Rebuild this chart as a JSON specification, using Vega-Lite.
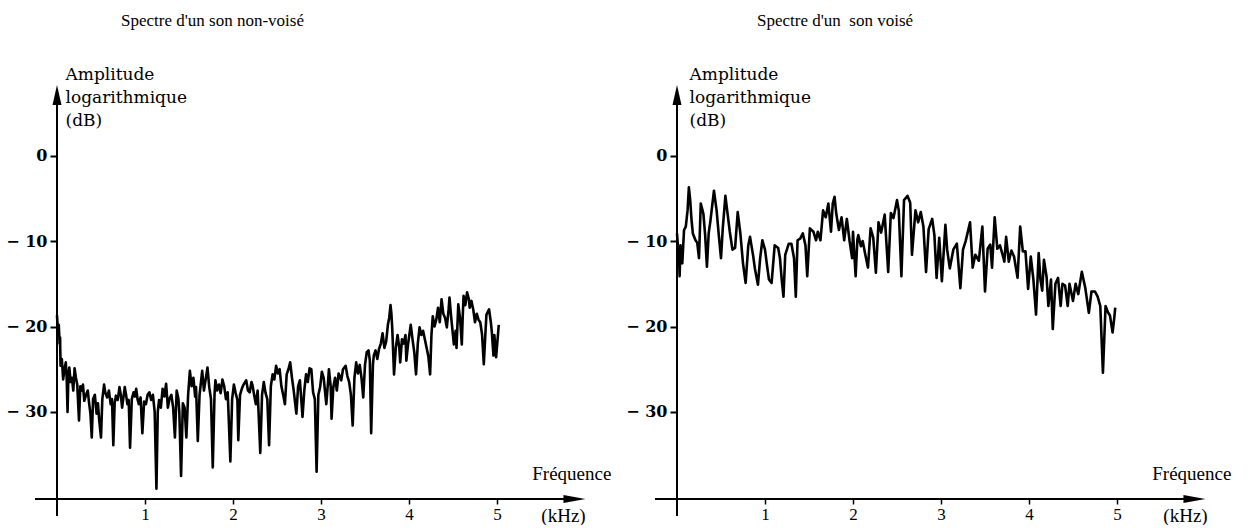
{
"$schema": "https://vega.github.io/schema/vega-lite/v6.json",
"background": "white",
"padding": {"left": 5, "top": 12, "right": 0, "bottom": 0},
"config": {"view": {"stroke": null}, "font": "Liberation Serif", "concat": {"spacing": 13}},
"datasets": {
"left": [
{"f":0.00,"db":-18.7},{"f":0.01,"db":-20.5},{"f":0.02,"db":-19.8},{"f":0.03,"db":-22.0},{"f":0.035,"db":-21.3},{"f":0.04,"db":-24.6},{"f":0.055,"db":-23.8},{"f":0.07,"db":-26.2},{"f":0.085,"db":-25.0},{"f":0.10,"db":-24.2},{"f":0.11,"db":-26.0},{"f":0.12,"db":-30.0},{"f":0.13,"db":-25.5},{"f":0.14,"db":-24.8},{"f":0.155,"db":-26.5},{"f":0.17,"db":-26.0},{"f":0.185,"db":-27.5},{"f":0.20,"db":-24.9},{"f":0.215,"db":-26.0},{"f":0.23,"db":-26.8},{"f":0.25,"db":-31.0},{"f":0.265,"db":-27.0},{"f":0.28,"db":-27.5},{"f":0.295,"db":-26.8},{"f":0.31,"db":-28.7},{"f":0.33,"db":-28.0},{"f":0.35,"db":-27.5},{"f":0.365,"db":-29.0},{"f":0.38,"db":-30.2},{"f":0.395,"db":-33.0},{"f":0.41,"db":-28.5},{"f":0.43,"db":-28.0},{"f":0.45,"db":-30.2},{"f":0.465,"db":-29.0},{"f":0.48,"db":-31.0},{"f":0.50,"db":-33.0},{"f":0.515,"db":-28.5},{"f":0.535,"db":-26.8},{"f":0.55,"db":-27.8},{"f":0.57,"db":-28.3},{"f":0.59,"db":-27.5},{"f":0.61,"db":-29.1},{"f":0.625,"db":-28.5},{"f":0.64,"db":-33.9},{"f":0.655,"db":-29.0},{"f":0.67,"db":-28.1},{"f":0.69,"db":-28.6},{"f":0.71,"db":-27.1},{"f":0.725,"db":-28.0},{"f":0.74,"db":-29.5},{"f":0.755,"db":-28.3},{"f":0.77,"db":-27.1},{"f":0.785,"db":-28.0},{"f":0.80,"db":-29.1},{"f":0.815,"db":-28.6},{"f":0.83,"db":-34.2},{"f":0.85,"db":-28.5},{"f":0.87,"db":-27.7},{"f":0.885,"db":-28.2},{"f":0.90,"db":-27.3},{"f":0.915,"db":-28.5},{"f":0.93,"db":-29.1},{"f":0.95,"db":-28.3},{"f":0.97,"db":-32.5},{"f":0.99,"db":-28.8},{"f":1.01,"db":-29.1},{"f":1.03,"db":-28.0},{"f":1.05,"db":-27.7},{"f":1.07,"db":-28.6},{"f":1.09,"db":-28.0},{"f":1.11,"db":-30.0},{"f":1.13,"db":-39.0},{"f":1.145,"db":-30.0},{"f":1.16,"db":-28.6},{"f":1.18,"db":-29.5},{"f":1.20,"db":-27.3},{"f":1.22,"db":-28.2},{"f":1.24,"db":-26.7},{"f":1.26,"db":-29.5},{"f":1.28,"db":-28.4},{"f":1.30,"db":-28.0},{"f":1.32,"db":-29.5},{"f":1.34,"db":-33.0},{"f":1.36,"db":-27.5},{"f":1.38,"db":-28.5},{"f":1.39,"db":-30.0},{"f":1.41,"db":-37.5},{"f":1.43,"db":-29.0},{"f":1.45,"db":-29.5},{"f":1.47,"db":-33.0},{"f":1.49,"db":-28.0},{"f":1.51,"db":-25.2},{"f":1.53,"db":-27.0},{"f":1.55,"db":-26.0},{"f":1.57,"db":-28.2},{"f":1.58,"db":-27.1},{"f":1.60,"db":-33.4},{"f":1.62,"db":-28.0},{"f":1.65,"db":-25.2},{"f":1.67,"db":-27.5},{"f":1.68,"db":-26.8},{"f":1.70,"db":-25.5},{"f":1.71,"db":-24.8},{"f":1.73,"db":-27.1},{"f":1.75,"db":-28.5},{"f":1.77,"db":-36.5},{"f":1.79,"db":-28.0},{"f":1.80,"db":-26.3},{"f":1.82,"db":-27.5},{"f":1.84,"db":-26.8},{"f":1.86,"db":-27.8},{"f":1.88,"db":-26.2},{"f":1.90,"db":-27.0},{"f":1.92,"db":-28.5},{"f":1.94,"db":-27.7},{"f":1.97,"db":-35.8},{"f":1.99,"db":-28.5},{"f":2.01,"db":-26.8},{"f":2.03,"db":-27.8},{"f":2.05,"db":-28.6},{"f":2.06,"db":-33.3},{"f":2.08,"db":-28.0},{"f":2.10,"db":-27.3},{"f":2.12,"db":-26.8},{"f":2.15,"db":-26.3},{"f":2.17,"db":-27.5},{"f":2.19,"db":-27.7},{"f":2.21,"db":-26.5},{"f":2.22,"db":-26.8},{"f":2.24,"db":-28.0},{"f":2.26,"db":-29.1},{"f":2.28,"db":-27.5},{"f":2.31,"db":-34.8},{"f":2.33,"db":-28.0},{"f":2.35,"db":-26.5},{"f":2.37,"db":-27.8},{"f":2.39,"db":-28.5},{"f":2.41,"db":-33.9},{"f":2.43,"db":-27.0},{"f":2.45,"db":-25.6},{"f":2.47,"db":-26.2},{"f":2.49,"db":-24.6},{"f":2.51,"db":-25.5},{"f":2.53,"db":-25.0},{"f":2.55,"db":-27.0},{"f":2.57,"db":-28.0},{"f":2.59,"db":-29.1},{"f":2.61,"db":-25.6},{"f":2.63,"db":-25.0},{"f":2.65,"db":-24.2},{"f":2.67,"db":-26.0},{"f":2.69,"db":-27.5},{"f":2.72,"db":-30.2},{"f":2.74,"db":-27.0},{"f":2.76,"db":-26.3},{"f":2.79,"db":-30.6},{"f":2.81,"db":-27.5},{"f":2.83,"db":-25.6},{"f":2.85,"db":-26.5},{"f":2.87,"db":-24.9},{"f":2.89,"db":-25.0},{"f":2.91,"db":-27.7},{"f":2.93,"db":-28.5},{"f":2.95,"db":-37.0},{"f":2.97,"db":-28.0},{"f":2.99,"db":-27.1},{"f":3.01,"db":-25.3},{"f":3.03,"db":-26.0},{"f":3.06,"db":-29.1},{"f":3.08,"db":-26.5},{"f":3.09,"db":-25.0},{"f":3.11,"db":-27.0},{"f":3.12,"db":-30.8},{"f":3.14,"db":-27.1},{"f":3.16,"db":-26.0},{"f":3.18,"db":-27.5},{"f":3.20,"db":-25.5},{"f":3.23,"db":-26.3},{"f":3.25,"db":-25.0},{"f":3.28,"db":-24.6},{"f":3.30,"db":-25.8},{"f":3.32,"db":-26.5},{"f":3.34,"db":-28.0},{"f":3.36,"db":-31.6},{"f":3.38,"db":-26.0},{"f":3.40,"db":-24.2},{"f":3.42,"db":-25.5},{"f":3.44,"db":-24.5},{"f":3.46,"db":-26.0},{"f":3.48,"db":-28.3},{"f":3.50,"db":-24.5},{"f":3.52,"db":-23.0},{"f":3.54,"db":-22.8},{"f":3.555,"db":-24.0},{"f":3.57,"db":-32.5},{"f":3.59,"db":-24.5},{"f":3.60,"db":-23.4},{"f":3.62,"db":-22.8},{"f":3.64,"db":-23.8},{"f":3.66,"db":-22.6},{"f":3.68,"db":-22.0},{"f":3.70,"db":-20.8},{"f":3.72,"db":-22.5},{"f":3.74,"db":-21.8},{"f":3.76,"db":-19.8},{"f":3.775,"db":-19.0},{"f":3.79,"db":-17.5},{"f":3.80,"db":-18.5},{"f":3.81,"db":-20.3},{"f":3.83,"db":-25.6},{"f":3.85,"db":-22.5},{"f":3.87,"db":-21.0},{"f":3.89,"db":-22.5},{"f":3.90,"db":-24.2},{"f":3.92,"db":-21.5},{"f":3.94,"db":-22.0},{"f":3.96,"db":-21.0},{"f":3.97,"db":-24.0},{"f":3.99,"db":-22.0},{"f":4.02,"db":-19.8},{"f":4.04,"db":-21.5},{"f":4.06,"db":-23.0},{"f":4.08,"db":-25.6},{"f":4.10,"db":-22.0},{"f":4.12,"db":-20.1},{"f":4.14,"db":-21.0},{"f":4.16,"db":-20.5},{"f":4.18,"db":-21.5},{"f":4.20,"db":-22.5},{"f":4.22,"db":-23.5},{"f":4.24,"db":-25.6},{"f":4.255,"db":-21.0},{"f":4.27,"db":-18.8},{"f":4.29,"db":-20.0},{"f":4.31,"db":-19.2},{"f":4.33,"db":-17.8},{"f":4.35,"db":-19.5},{"f":4.37,"db":-16.8},{"f":4.39,"db":-18.5},{"f":4.41,"db":-19.0},{"f":4.43,"db":-20.1},{"f":4.45,"db":-18.0},{"f":4.46,"db":-16.6},{"f":4.48,"db":-19.0},{"f":4.51,"db":-22.1},{"f":4.53,"db":-20.5},{"f":4.54,"db":-22.5},{"f":4.56,"db":-17.4},{"f":4.58,"db":-19.0},{"f":4.60,"db":-22.1},{"f":4.61,"db":-19.0},{"f":4.62,"db":-16.4},{"f":4.64,"db":-17.5},{"f":4.66,"db":-16.0},{"f":4.68,"db":-16.8},{"f":4.69,"db":-17.8},{"f":4.71,"db":-17.0},{"f":4.73,"db":-18.0},{"f":4.75,"db":-19.5},{"f":4.77,"db":-18.5},{"f":4.79,"db":-19.2},{"f":4.81,"db":-19.5},{"f":4.83,"db":-20.9},{"f":4.85,"db":-24.4},{"f":4.87,"db":-20.5},{"f":4.88,"db":-18.6},{"f":4.91,"db":-18.0},{"f":4.93,"db":-19.5},{"f":4.94,"db":-20.5},{"f":4.96,"db":-23.4},{"f":4.97,"db":-21.0},{"f":4.99,"db":-23.6},{"f":5.02,"db":-19.8}
],
"right": [
{"f":0.00,"db":-9.1},{"f":0.01,"db":-10.5},{"f":0.02,"db":-11.0},{"f":0.03,"db":-14.1},{"f":0.04,"db":-10.5},{"f":0.05,"db":-11.5},{"f":0.06,"db":-12.6},{"f":0.08,"db":-8.7},{"f":0.10,"db":-8.3},{"f":0.12,"db":-6.4},{"f":0.135,"db":-3.7},{"f":0.15,"db":-5.2},{"f":0.165,"db":-7.5},{"f":0.18,"db":-9.1},{"f":0.21,"db":-9.9},{"f":0.23,"db":-10.2},{"f":0.25,"db":-12.0},{"f":0.27,"db":-5.6},{"f":0.285,"db":-6.2},{"f":0.30,"db":-6.8},{"f":0.32,"db":-9.3},{"f":0.34,"db":-13.0},{"f":0.36,"db":-9.1},{"f":0.38,"db":-7.6},{"f":0.42,"db":-4.1},{"f":0.45,"db":-6.4},{"f":0.475,"db":-9.3},{"f":0.50,"db":-12.0},{"f":0.52,"db":-8.5},{"f":0.55,"db":-4.7},{"f":0.57,"db":-6.4},{"f":0.60,"db":-8.9},{"f":0.63,"db":-11.0},{"f":0.66,"db":-10.8},{"f":0.69,"db":-6.6},{"f":0.72,"db":-9.1},{"f":0.75,"db":-12.6},{"f":0.78,"db":-14.9},{"f":0.81,"db":-10.5},{"f":0.83,"db":-9.5},{"f":0.865,"db":-11.7},{"f":0.885,"db":-13.2},{"f":0.92,"db":-15.1},{"f":0.945,"db":-12.0},{"f":0.97,"db":-9.9},{"f":1.00,"db":-11.0},{"f":1.02,"db":-12.6},{"f":1.045,"db":-14.5},{"f":1.075,"db":-14.9},{"f":1.11,"db":-10.5},{"f":1.15,"db":-10.8},{"f":1.17,"db":-12.0},{"f":1.19,"db":-14.5},{"f":1.21,"db":-16.5},{"f":1.23,"db":-11.6},{"f":1.27,"db":-10.3},{"f":1.30,"db":-10.3},{"f":1.33,"db":-12.0},{"f":1.35,"db":-16.5},{"f":1.37,"db":-9.9},{"f":1.40,"db":-9.7},{"f":1.43,"db":-9.1},{"f":1.46,"db":-10.5},{"f":1.48,"db":-14.1},{"f":1.51,"db":-8.5},{"f":1.55,"db":-8.9},{"f":1.58,"db":-9.9},{"f":1.60,"db":-8.9},{"f":1.63,"db":-9.9},{"f":1.66,"db":-6.4},{"f":1.69,"db":-7.2},{"f":1.72,"db":-5.6},{"f":1.75,"db":-8.9},{"f":1.77,"db":-5.6},{"f":1.79,"db":-4.8},{"f":1.81,"db":-6.8},{"f":1.84,"db":-8.7},{"f":1.87,"db":-7.2},{"f":1.90,"db":-9.9},{"f":1.93,"db":-7.4},{"f":1.96,"db":-9.9},{"f":1.99,"db":-12.0},{"f":2.00,"db":-8.9},{"f":2.03,"db":-14.1},{"f":2.05,"db":-9.8},{"f":2.06,"db":-9.3},{"f":2.09,"db":-10.6},{"f":2.11,"db":-10.0},{"f":2.14,"db":-11.6},{"f":2.17,"db":-13.1},{"f":2.20,"db":-8.5},{"f":2.23,"db":-9.6},{"f":2.26,"db":-13.7},{"f":2.29,"db":-7.8},{"f":2.32,"db":-9.0},{"f":2.36,"db":-6.9},{"f":2.40,"db":-13.6},{"f":2.43,"db":-6.7},{"f":2.46,"db":-7.3},{"f":2.50,"db":-5.2},{"f":2.52,"db":-6.4},{"f":2.55,"db":-14.1},{"f":2.58,"db":-5.2},{"f":2.62,"db":-4.7},{"f":2.65,"db":-5.5},{"f":2.67,"db":-11.6},{"f":2.71,"db":-6.4},{"f":2.74,"db":-7.8},{"f":2.77,"db":-6.6},{"f":2.80,"db":-8.3},{"f":2.83,"db":-13.6},{"f":2.86,"db":-8.6},{"f":2.90,"db":-7.4},{"f":2.925,"db":-9.3},{"f":2.95,"db":-14.3},{"f":2.98,"db":-9.6},{"f":3.01,"db":-14.7},{"f":3.05,"db":-8.1},{"f":3.07,"db":-11.0},{"f":3.10,"db":-13.2},{"f":3.14,"db":-11.0},{"f":3.18,"db":-10.3},{"f":3.22,"db":-15.5},{"f":3.25,"db":-11.0},{"f":3.28,"db":-10.0},{"f":3.33,"db":-7.8},{"f":3.36,"db":-13.1},{"f":3.39,"db":-11.6},{"f":3.43,"db":-12.3},{"f":3.47,"db":-8.3},{"f":3.50,"db":-15.9},{"f":3.53,"db":-10.9},{"f":3.56,"db":-10.4},{"f":3.58,"db":-13.1},{"f":3.61,"db":-7.2},{"f":3.64,"db":-10.9},{"f":3.67,"db":-10.5},{"f":3.70,"db":-11.6},{"f":3.72,"db":-12.4},{"f":3.74,"db":-9.5},{"f":3.77,"db":-12.4},{"f":3.80,"db":-11.1},{"f":3.83,"db":-11.8},{"f":3.87,"db":-14.3},{"f":3.90,"db":-8.3},{"f":3.93,"db":-11.2},{"f":3.96,"db":-11.2},{"f":3.99,"db":-15.6},{"f":4.02,"db":-11.8},{"f":4.05,"db":-14.5},{"f":4.08,"db":-18.6},{"f":4.11,"db":-11.4},{"f":4.13,"db":-14.5},{"f":4.15,"db":-15.8},{"f":4.17,"db":-12.2},{"f":4.20,"db":-14.2},{"f":4.22,"db":-17.6},{"f":4.25,"db":-14.5},{"f":4.27,"db":-20.3},{"f":4.30,"db":-15.0},{"f":4.33,"db":-14.3},{"f":4.36,"db":-17.6},{"f":4.38,"db":-15.0},{"f":4.41,"db":-15.2},{"f":4.44,"db":-17.6},{"f":4.46,"db":-15.0},{"f":4.50,"db":-17.0},{"f":4.53,"db":-15.0},{"f":4.56,"db":-16.2},{"f":4.60,"db":-13.6},{"f":4.64,"db":-15.5},{"f":4.68,"db":-18.4},{"f":4.71,"db":-15.9},{"f":4.75,"db":-15.9},{"f":4.78,"db":-16.5},{"f":4.81,"db":-17.6},{"f":4.84,"db":-25.4},{"f":4.87,"db":-17.6},{"f":4.90,"db":-18.4},{"f":4.92,"db":-18.7},{"f":4.95,"db":-20.7},{"f":4.97,"db":-18.9},{"f":4.98,"db":-17.8}
],
"axes": [
{"f":-0.25,"f2":5.85,"db":-40.2,"db2":-40.2},
{"f":0,"f2":0,"db":-42.2,"db2":7.6}
],
"arrowUp": [{"f":0,"db":7.1}],
"arrowRight": [{"f":5.88,"db":-40.2}],
"label": [{"f":5.85,"db":-37.3,"t":"Fréquence"}]
},
"hconcat": [
{
"width": 528, "height": 415,
"title": {"text": "Spectre d'un son non-voisé", "anchor": "start", "frame": "group", "dx": 64, "offset": 35, "fontSize": 17, "fontWeight": "normal", "font": "Liberation Serif", "color": "black"},
"encoding": {
"x": {"field": "f", "type": "quantitative", "scale": {"domain": [0, 6], "nice": false, "zero": false},
 "axis": {"values": [1,2,3,4,5], "domain": false, "grid": false, "tickSize": 5, "tickWidth": 1.5, "tickColor": "black", "labelFont": "Liberation Serif", "labelFontSize": 17, "labelColor": "black", "labelPadding": 2,
 "title": "(kHz)", "titleFont": "Liberation Serif", "titleFontSize": 19, "titleFontWeight": "normal", "titleColor": "black", "titleX": 506, "titleY": 16, "titleAlign": "center", "titleBaseline": "middle"}},
"y": {"field": "db", "type": "quantitative", "scale": {"domain": [-40.2, 8.4], "nice": false, "zero": false},
 "axis": {"values": [-30,-20,-10,0], "domain": false, "grid": false, "tickSize": 7, "tickWidth": 2, "tickColor": "black", "labelFont": "DejaVu Serif", "labelFontSize": 16, "labelFontWeight": "bold", "labelColor": "black", "labelPadding": 3,
 "labelExpr": "datum.value < 0 ? '\u2212 ' + (-datum.value) : '0'",
 "title": ["Amplitude", "logarithmique", "(dB)"], "titleFont": "DejaVu Serif", "titleFontSize": 17, "titleFontWeight": "normal", "titleColor": "black", "titleAngle": 0, "titleAlign": "left", "titleBaseline": "top", "titleX": 8, "titleY": -18, "titleLineHeight": 23}}
},
"layer": [
{"data": {"name": "axes"}, "mark": {"type": "rule", "color": "black", "strokeWidth": 2}, "encoding": {"x2": {"field": "f2"}, "y2": {"field": "db2"}}},
{"data": {"name": "arrowUp"}, "mark": {"type": "point", "shape": "M0,-1L0.45,1L-0.45,1Z", "size": 400, "filled": true, "color": "black", "opacity": 1}},
{"data": {"name": "arrowRight"}, "mark": {"type": "point", "shape": "M1,0L-1,0.36L-1,-0.36Z", "size": 484, "filled": true, "color": "black", "opacity": 1}},
{"data": {"name": "label"}, "mark": {"type": "text", "font": "Liberation Serif", "fontSize": 19, "color": "black"}, "encoding": {"text": {"field": "t"}}},
{"data": {"name": "left"}, "mark": {"type": "line", "color": "black", "strokeWidth": 2.6, "strokeJoin": "round"}}
]
},
{
"width": 528, "height": 415,
"title": {"text": "Spectre d'un\u00a0 son voisé", "anchor": "start", "frame": "group", "dx": 80, "offset": 35, "fontSize": 17, "fontWeight": "normal", "font": "Liberation Serif", "color": "black"},
"encoding": {
"x": {"field": "f", "type": "quantitative", "scale": {"domain": [0, 6], "nice": false, "zero": false},
 "axis": {"values": [1,2,3,4,5], "domain": false, "grid": false, "tickSize": 5, "tickWidth": 1.5, "tickColor": "black", "labelFont": "Liberation Serif", "labelFontSize": 17, "labelColor": "black", "labelPadding": 2,
 "title": "(kHz)", "titleFont": "Liberation Serif", "titleFontSize": 19, "titleFontWeight": "normal", "titleColor": "black", "titleX": 508, "titleY": 16, "titleAlign": "center", "titleBaseline": "middle"}},
"y": {"field": "db", "type": "quantitative", "scale": {"domain": [-40.2, 8.4], "nice": false, "zero": false},
 "axis": {"values": [-30,-20,-10,0], "domain": false, "grid": false, "tickSize": 7, "tickWidth": 2, "tickColor": "black", "labelFont": "DejaVu Serif", "labelFontSize": 16, "labelFontWeight": "bold", "labelColor": "black", "labelPadding": 3,
 "labelExpr": "datum.value < 0 ? '\u2212 ' + (-datum.value) : '0'",
 "title": ["Amplitude", "logarithmique", "(dB)"], "titleFont": "DejaVu Serif", "titleFontSize": 17, "titleFontWeight": "normal", "titleColor": "black", "titleAngle": 0, "titleAlign": "left", "titleBaseline": "top", "titleX": 12, "titleY": -18, "titleLineHeight": 23}}
},
"layer": [
{"data": {"name": "axes"}, "mark": {"type": "rule", "color": "black", "strokeWidth": 2}, "encoding": {"x2": {"field": "f2"}, "y2": {"field": "db2"}}},
{"data": {"name": "arrowUp"}, "mark": {"type": "point", "shape": "M0,-1L0.45,1L-0.45,1Z", "size": 400, "filled": true, "color": "black", "opacity": 1}},
{"data": {"name": "arrowRight"}, "mark": {"type": "point", "shape": "M1,0L-1,0.36L-1,-0.36Z", "size": 484, "filled": true, "color": "black", "opacity": 1}},
{"data": {"name": "label"}, "mark": {"type": "text", "font": "Liberation Serif", "fontSize": 19, "color": "black"}, "encoding": {"text": {"field": "t"}}},
{"data": {"name": "right"}, "mark": {"type": "line", "color": "black", "strokeWidth": 2.6, "strokeJoin": "round"}}
]
}
]
}
